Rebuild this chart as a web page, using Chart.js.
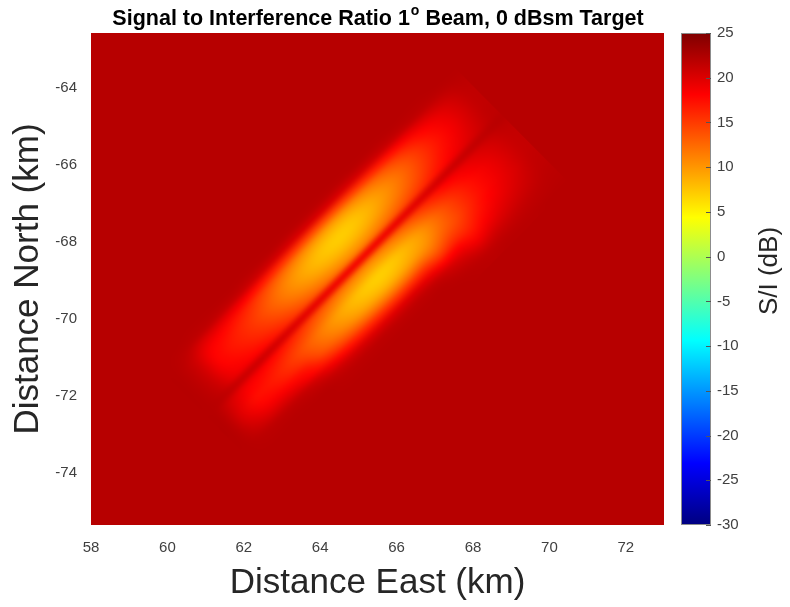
<!DOCTYPE html>
<html>
<head>
<meta charset="utf-8">
<script src="https://cdn.jsdelivr.net/npm/chart.js@4/dist/chart.umd.min.js"></script>
<style>
html,body{margin:0;padding:0;background:#ffffff;}
#wrap{width:790px;height:607px;position:relative;}
</style>
</head>
<body>
<div id="wrap"><canvas id="c" width="790" height="607"></canvas></div>
<script>
// ---------------- data ----------------
const titleMain = "Signal to Interference Ratio 1";
const titleSup = "o";
const titleRest = " Beam, 0 dBsm Target";
const xAxisLabel = "Distance East (km)";
const yAxisLabel = "Distance North (km)";
const cbLabel = "S/I (dB)";

const eastTicks = [58, 60, 62, 64, 66, 68, 70, 72];
const northTicks = [-74, -72, -70, -68, -66, -64];
const siTicks = [-30, -25, -20, -15, -10, -5, 0, 5, 10, 15, 20, 25];
const eastRange = [58, 73];
const northRange = [-75.35, -62.57];
const siRange = [-30, 25];

const backgroundSI = 22;              // dB, S/I away from the interference pattern
const patternCenter = [65.07, -68.44]; // km East, km North (between the two lobes)
const patternBearingDeg = 45;          // direction of the lobes (from East, toward North)

// along-lobe offsets (km) -> columns, cross-lobe offsets (km, toward SE) -> rows
const alongKm = [-5.5, -5, -4.5, -4, -3.5, -3, -2.5, -2, -1.5, -1, -0.5, 0, 0.5, 1, 1.5, 2, 2.5, 3, 3.5, 4, 4.5, 5];
const crossKm = [-2.0, -1.8, -1.6, -1.4, -1.2, -1.0, -0.8, -0.6, -0.4, -0.2, 0, 0.2, 0.4, 0.6, 0.8, 1.0, 1.2, 1.4, 1.6, 1.8, 2.0, 2.2, 2.4];

const siGrid = [
  [22,22,22,22,22,22,22,22,22,22,22,22,22,22,22,22,22,22,22,22,22,22],
  [22,22,21.9,21.9,21.9,21.9,21.8,21.8,21.8,21.7,21.7,21.7,21.7,21.7,21.8,21.8,21.8,21.9,21.9,21.9,22,22],
  [22,21.8,21.5,21.4,21.2,21.1,20.8,20.6,20.4,20.2,20.1,20.1,20.1,20.2,20.4,20.6,20.9,21.1,21.4,21.5,21.7,21.9],
  [22,21.4,20,19.5,19,18.4,17.5,16.6,15.8,15.2,14.7,14.5,14.7,15.2,15.9,16.7,17.6,18.6,19.5,20.3,21,21.7],
  [22,21,18.8,18,17.2,16.2,14.8,13.4,12.1,11,10.3,10,10.3,11.1,12.2,13.5,15,16.6,18,19.2,20.4,21.5],
  [22,20.9,18.2,17.3,16.3,15.1,13.5,11.7,10.2,9,8.1,7.8,8.1,9.1,10.4,11.9,13.6,15.5,17.3,18.7,20.1,21.4],
  [22,20.8,18,17,16,14.7,13,11.2,9.6,8.3,7.4,7,7.4,8.4,9.8,11.4,13.2,15.2,17,18.5,20,21.4],
  [22,20.9,18.2,17.2,16.2,15,13.4,11.6,10.1,8.8,8,7.6,8,8.9,10.3,11.8,13.6,15.5,17.2,18.6,20.1,21.4],
  [22,21,18.6,17.7,16.8,15.7,14.3,12.7,11.3,10.2,9.4,9.1,9.4,10.3,11.5,12.9,14.4,16.2,17.7,19,20.3,21.5],
  [22,21.2,19.2,18.5,17.8,16.9,15.7,14.4,13.3,12.4,11.8,11.5,11.8,12.5,13.5,14.6,15.8,17.2,18.5,19.6,20.6,21.6],
  [22,21.6,21.1,20.9,20.7,20.4,20,19.6,19.3,19,18.8,18.7,18.8,19,19.3,19.7,20.2,20.6,21,21.3,21.6,21.9],
  [22,20.3,18.9,18.5,17.8,16.9,15.7,14.4,13.3,12.4,11.8,11.5,11.8,12.5,13.7,15.2,16.8,18.1,19.1,19.9,20.7,21.5],
  [22,19.8,18,17.5,16.6,15.4,14.1,12.5,11.1,9.9,9.2,8.8,9.2,10,11.3,13.2,15.2,16.9,18.3,19.3,20.3,21.3],
  [22,19.5,17.5,17,16,14.7,13,11.2,9.6,8.3,7.4,7,7.4,8.4,9.8,12,14.2,16.2,17.7,18.9,20.1,21.2],
  [22,19.7,17.9,17.4,16.5,15.3,13.2,11.4,9.9,8.6,7.7,7.3,7.7,8.7,9.8,12,14,16,17.6,18.8,20,21.2],
  [22,20.3,18.9,18.5,17.8,16.9,14.1,12.5,11.1,9.9,9.2,8.8,9.2,10,10.8,12.8,14.2,16.2,17.7,18.9,20.1,21.2],
  [22,21,20.2,20,19.4,18,16.2,14.7,13.6,12.7,12.1,11.8,12.1,12.8,12.5,14.2,15,16.7,18.1,19.2,20.2,21.3],
  [22,21.7,21.5,21.4,21.2,20.4,18.8,17.6,16.8,16.3,15.9,15.7,15.9,16.1,15,16,16,17.5,18.7,19.6,20.5,21.4],
  [22,21.9,21.9,21.9,21.8,21.5,20.9,20.4,20.1,19.9,19.8,19.8,19.8,19.2,17.9,18.2,17.2,18.4,19.4,20.1,20.8,21.5],
  [22,22,22,22,22,22,21.7,21.6,21.5,21.5,21.4,21.4,21.4,21.2,20.4,19.8,18.6,19.5,20.2,20.7,21.2,21.7],
  [22,22,22,22,22,22,21.9,21.9,21.9,21.9,21.9,21.9,21.9,21.9,21.4,21,20.2,20.7,21,21.3,21.6,21.8],
  [22,22,22,22,22,22,22,22,22,22,22,22,22,22,21.9,21.7,21.4,21.5,21.6,21.7,21.8,21.9],
  [22,22,22,22,22,22,22,22,22,22,22,22,22,22,22,21.9,21.8,21.9,21.9,21.9,22,22]
];

// ---------------- helpers ----------------
function clamp01(v){ return Math.max(0, Math.min(1, v)); }
function jetArr(t){
  t = clamp01(t);
  return [clamp01(1.5 - Math.abs(4*t - 3)), clamp01(1.5 - Math.abs(4*t - 2)), clamp01(1.5 - Math.abs(4*t - 1))]
    .map(c => Math.round(c*255));
}
function jetRGB(t){ const c = jetArr(t); return 'rgb(' + c[0] + ',' + c[1] + ',' + c[2] + ')'; }
function siT(v){ return (v - siRange[0]) / (siRange[1] - siRange[0]); }

const th = patternBearingDeg * Math.PI / 180;
const alongDir = [Math.cos(th), Math.sin(th)];
const crossDir = [Math.sin(th), -Math.cos(th)];
function toEN(u, v){
  return [patternCenter[0] + u*alongDir[0] + v*crossDir[0],
          patternCenter[1] + u*alongDir[1] + v*crossDir[1]];
}

// cell centres as scatter data
const cellPoints = [];
crossKm.forEach((v, i) => alongKm.forEach((u, j) => {
  const p = toEN(u, v);
  cellPoints.push({x: p[0], y: p[1], u: u, v: v, si: siGrid[i][j]});
}));

// one pixel per cell, coloured by the colormap
const nCols = alongKm.length, nRows = crossKm.length;
const cellCanvas = document.createElement('canvas');
cellCanvas.width = nCols; cellCanvas.height = nRows;
(function(){
  const g = cellCanvas.getContext('2d');
  const img = g.createImageData(nCols, nRows);
  for (let i = 0; i < nRows; i++) for (let j = 0; j < nCols; j++) {
    const c = jetArr(siT(siGrid[i][j]));
    const k = (i*nCols + j)*4;
    img.data[k] = c[0]; img.data[k+1] = c[1]; img.data[k+2] = c[2]; img.data[k+3] = 255;
  }
  g.putImageData(img, 0, 0);
})();

const FONT = "'Liberation Sans', Arial, Helvetica, sans-serif";

const heatPlugin = {
  id: 'heat',
  beforeDatasetsDraw(chart){
    const {ctx, chartArea: a} = chart;
    const xs = chart.scales.x, ys = chart.scales.y;
    ctx.save();
    ctx.beginPath();
    ctx.rect(a.left, a.top, a.right - a.left, a.bottom - a.top);
    ctx.clip();
    const x0 = xs.getPixelForValue(eastRange[0]), x1 = xs.getPixelForValue(eastRange[1]);
    const y0 = ys.getPixelForValue(northRange[1]), y1 = ys.getPixelForValue(northRange[0]);
    ctx.fillStyle = jetRGB(siT(backgroundSI));
    ctx.fillRect(x0, y0, x1 - x0, y1 - y0);
    const du = alongKm[1] - alongKm[0], dv = crossKm[1] - crossKm[0];
    const pix = (ix, iy) => {
      const p = toEN(alongKm[0] + (ix - 0.5)*du, crossKm[0] + (iy - 0.5)*dv);
      return [xs.getPixelForValue(p[0]), ys.getPixelForValue(p[1])];
    };
    const p0 = pix(0, 0), px = pix(1, 0), py = pix(0, 1);
    ctx.transform(px[0]-p0[0], px[1]-p0[1], py[0]-p0[0], py[1]-p0[1], p0[0], p0[1]);
    ctx.imageSmoothingEnabled = true;
    ctx.imageSmoothingQuality = 'high';
    ctx.drawImage(cellCanvas, 0, 0);
    ctx.restore();
  },
  afterDraw(chart){
    const {ctx, chartArea: a} = chart;
    const cb = chart.scales.cb;
    const top = cb.getPixelForValue(siRange[1]);
    const bot = cb.getPixelForValue(siRange[0]);
    const left = cb.left + 17, w = 30;
    const grad = ctx.createLinearGradient(0, bot, 0, top);
    for (let k = 0; k <= 64; k++) grad.addColorStop(k/64, jetRGB(k/64));
    ctx.save();
    ctx.fillStyle = grad;
    ctx.fillRect(left, top, w, bot - top);
    ctx.strokeStyle = '#8c8c8c';
    ctx.lineWidth = 1;
    ctx.strokeRect(left + 0.5, top + 0.5, w - 1, bot - top - 1);
    ctx.strokeStyle = '#555555';
    siTicks.forEach(t => {
      const py = Math.round(cb.getPixelForValue(t)) + 0.5;
      ctx.beginPath();
      ctx.moveTo(left + w - 5, py);
      ctx.lineTo(left + w, py);
      ctx.stroke();
    });
    ctx.translate(770, (top + bot) / 2 - 8);
    ctx.rotate(-Math.PI/2);
    ctx.fillStyle = '#262626';
    ctx.font = '26px ' + FONT;
    ctx.textAlign = 'center';
    ctx.textBaseline = 'middle';
    ctx.fillText(cbLabel, 0, 0);
    ctx.restore();
    // title with superscript
    ctx.save();
    const fMain = 'bold 21.5px ' + FONT, fSup = 'bold 14px ' + FONT;
    ctx.font = fMain;
    const w1 = ctx.measureText(titleMain).width, w3 = ctx.measureText(titleRest).width;
    ctx.font = fSup;
    const w2 = ctx.measureText(titleSup).width;
    const total = w1 + w2 + w3;
    let sx = (a.left + a.right) / 2 - total / 2;
    const by = 25;
    ctx.fillStyle = '#000000';
    ctx.textBaseline = 'alphabetic';
    ctx.textAlign = 'left';
    ctx.font = fMain; ctx.fillText(titleMain, sx, by); sx += w1 + 1;
    ctx.font = fSup; ctx.fillText(titleSup, sx, by - 10); sx += w2;
    ctx.font = fMain; ctx.fillText(titleRest, sx, by);
    ctx.restore();
  }
};

const tickFont = {family: FONT, size: 15};
const tickColor = '#404040';

new Chart(document.getElementById('c'), {
  type: 'scatter',
  data: {
    datasets: [{
      label: 'S/I cells',
      data: cellPoints,
      pointRadius: 0,
      pointHoverRadius: 0,
      showLine: false
    }]
  },
  options: {
    responsive: false,
    animation: false,
    devicePixelRatio: 1,
    layout: {padding: {top: 33, left: 0, right: 0, bottom: 0}},
    plugins: {legend: {display: false}, tooltip: {enabled: false}, title: {display: false}},
    events: [],
    scales: {
      x: {
        type: 'linear', position: 'bottom',
        min: eastRange[0], max: eastRange[1],
        afterBuildTicks: s => { s.ticks = eastTicks.map(v => ({value: v})); },
        afterFit: s => { s.height = 82; s.paddingLeft = 0; s.paddingRight = 0; },
        grid: {display: false, drawTicks: false},
        border: {display: false},
        ticks: {font: tickFont, color: tickColor, padding: 14, maxRotation: 0, autoSkip: false},
        title: {display: true, text: xAxisLabel, color: '#262626', font: {family: FONT, size: 35}, padding: {top: 0, bottom: 3}}
      },
      y: {
        type: 'linear', position: 'left',
        min: northRange[0], max: northRange[1],
        afterBuildTicks: s => { s.ticks = northTicks.map(v => ({value: v})); },
        afterFit: s => { s.width = 91; s.paddingTop = 0; s.paddingBottom = 0; },
        grid: {display: false, drawTicks: false},
        border: {display: false},
        ticks: {font: tickFont, color: tickColor, padding: 14, autoSkip: false},
        title: {display: true, text: yAxisLabel, color: '#262626', font: {family: FONT, size: 35}, padding: {top: 7, bottom: 0}}
      },
      cb: {
        type: 'linear', position: 'right',
        min: siRange[0], max: siRange[1],
        afterBuildTicks: s => { s.ticks = siTicks.map(v => ({value: v})); },
        afterFit: s => { s.width = 126; s.paddingTop = 0; s.paddingBottom = 0; },
        grid: {display: false, drawTicks: false},
        border: {display: false},
        ticks: {font: tickFont, color: tickColor, padding: 53, autoSkip: false},
        title: {display: false}
      }
    }
  },
  plugins: [heatPlugin]
});
</script>
</body>
</html>
